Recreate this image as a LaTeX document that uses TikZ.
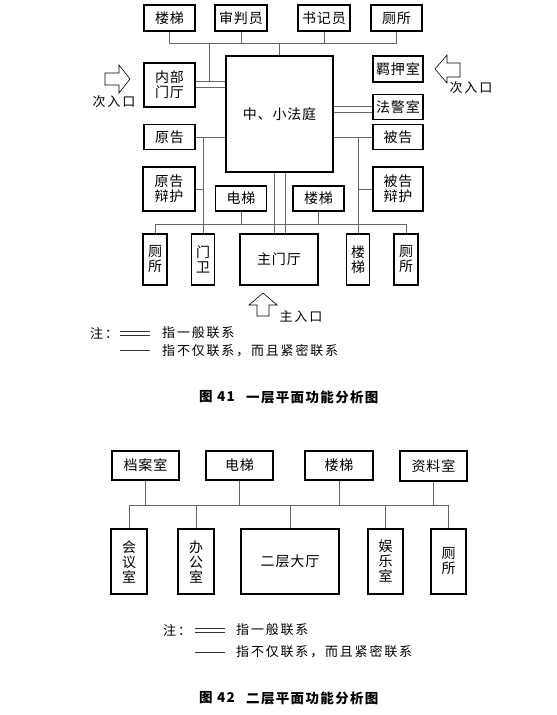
\documentclass[tikz,border=0pt]{standalone}
\usepackage{fontspec}
\setmainfont{Noto Sans CJK SC}[LetterSpace=6]
\newfontfamily\cjk{Noto Sans CJK SC}[LetterSpace=6]
\newfontfamily\cjkw{Noto Sans CJK SC}[LetterSpace=14]
\newfontfamily\cjkc{Noto Sans CJK SC}[LetterSpace=10]
\begin{document}
\begin{tikzpicture}[x=1pt,y=-1pt,
  box/.style={draw, line width=1.1pt, inner sep=0pt, align=center,
    font=\cjk\fontsize{14}{15}\selectfont},
  conn/.style={draw=black!60, line width=0.6pt},
  legline/.style={draw=black!80, line width=0.6pt},
  arrowshape/.style={draw=black, line width=0.6pt, line join=miter},
  lbl/.style={inner sep=0pt, font=\cjkw\fontsize{13}{14}\selectfont},
  captxt/.style={inner sep=0pt, anchor=west, font=\cjkc\bfseries\fontsize{13.5}{14}\selectfont}]
\useasboundingbox[fill=white] (0,0) rectangle (557,715);

% ===== Figure 41 =====
\node[box, minimum width=51pt, minimum height=26pt] (t1) at (169.5,18) {楼梯};
\node[box, minimum width=52pt, minimum height=26pt] (t2) at (241,18) {审判员};
\node[box, minimum width=52pt, minimum height=26pt] (t3) at (324,18) {书记员};
\node[box, minimum width=51pt, minimum height=26pt] (t4) at (396.5,18) {厕所};

\node[box, minimum width=107pt, minimum height=116pt] (hall) at (279.5,114) {中、小法庭};
\node[box, minimum width=51pt, minimum height=44pt] (nb) at (169.5,85) {内部\\门厅};
\node[box, minimum width=50pt, minimum height=26pt] (jy) at (398,69) {羁押室};
\node[box, minimum width=50pt, minimum height=25pt] (fj) at (398,107) {法警室};
\node[box, minimum width=50pt, minimum height=25pt] (bg) at (398,137) {被告};
\node[box, minimum width=51pt, minimum height=25pt] (yg) at (169.5,137) {原告};
\node[box, minimum width=52pt, minimum height=44pt] (ygbh) at (169,189) {原告\\辩护};
\node[box, minimum width=50pt, minimum height=44pt] (bgbh) at (398,189) {被告\\辩护};
\node[box, minimum width=51pt, minimum height=25pt] (dt) at (241,198.5) {电梯};
\node[box, minimum width=51pt, minimum height=25pt] (lt2) at (318.5,198.5) {楼梯};
\node[box, minimum width=24pt, minimum height=51pt] (cs1) at (155,259.5) {厕\\所};
\node[box, minimum width=23pt, minimum height=51pt] (mw) at (203,259.5) {门\\卫};
\node[box, minimum width=78pt, minimum height=51pt] (mmt) at (279,259.5) {主门厅};
\node[box, minimum width=23pt, minimum height=51pt] (lt3) at (358,259.5) {楼\\梯};
\node[box, minimum width=24pt, minimum height=51pt] (cs2) at (406,259.5) {厕\\所};

% connectors
\coordinate (tb) at (0,43);
\draw[conn] (t1.south) -- (t1.south |- tb) -- (t4.south |- tb) -- (t4.south);
\draw[conn] (t2.south) -- (t2.south |- tb);
\draw[conn] (t3.south) -- (t3.south |- tb);
\draw[conn] (hall.north) -- (hall.north |- tb);
\coordinate (j1) at (209,43);
\coordinate (yA) at (0,81);
\coordinate (yB) at (0,87);
\draw[conn] (j1) -- (j1 |- yA);
\draw[conn] (nb.east |- yA) -- (hall.west |- yA);
\draw[conn] (nb.east |- yB) -- (hall.west |- yB);
\coordinate (fA) at (0,106);
\coordinate (fB) at (0,112);
\draw[conn] (hall.east |- fA) -- (fj.west |- fA);
\draw[conn] (hall.east |- fB) -- (fj.west |- fB);
\draw[conn] (yg.east) -- (hall.west |- yg.east);
\draw[conn] (mw.north |- yg.east) -- (mw.north);
\draw[conn] (ygbh.east) -- (mw.north |- ygbh.east);
\draw[conn] (bg.west) -- (hall.east |- bg.west);
\draw[conn] (lt3.north |- bg.west) -- (lt3.north);
\draw[conn] (bgbh.west) -- (lt3.north |- bgbh.west);
\coordinate (bb) at (0,224);
\draw[conn] (cs1.north) -- (cs1.north |- bb) -- (cs2.north |- bb) -- (cs2.north);
\draw[conn] (dt.south) -- (dt.south |- bb);
\draw[conn] (lt2.south) -- (lt2.south |- bb);
\coordinate (dx1) at (274,0);
\coordinate (dx2) at (285,0);
\draw[conn] (dx1 |- hall.south) -- (dx1 |- mmt.north);
\draw[conn] (dx2 |- hall.south) -- (dx2 |- mmt.north);

% entrance arrows
\draw[arrowshape] (105,73) -- (119,73) -- (119,65) -- (130,79) -- (119,93) -- (119,85) -- (105,85) -- cycle;
\draw[arrowshape] (460,63) -- (447,63) -- (447,55) -- (435,69) -- (447,83) -- (447,77) -- (460,77) -- cycle;
\draw[arrowshape] (257,316) -- (257,305) -- (249,305) -- (263,293) -- (277,305) -- (269,305) -- (269,316) -- cycle;
\node[lbl] (e1) at (114,102) {次入口};
\node[lbl] (e2) at (471,88) {次入口};
\node[lbl] (e3) at (301,317) {主入口};

% legend 1
\node[lbl, anchor=west] (n1) at (90,333) {注：};
\draw[legline] (120,331) -- (150,331);
\draw[legline] (120,335) -- (150,335);
\draw[legline] (120,350.5) -- (150,350.5);
\node[lbl, anchor=west] (l1) at (162,333) {指一般联系};
\node[lbl, anchor=west] (l2) at (162,350.5) {指不仅联系，而且紧密联系};
\node[captxt] (c1a) at (199,397) {图 41};
\node[captxt] (c1b) at (246,397) {一层平面功能分析图};

% ===== Figure 42 =====
\node[box, minimum width=67pt, minimum height=29pt] (da) at (145.5,465.5) {档案室};
\node[box, minimum width=67pt, minimum height=29pt] (dt2) at (239.5,465.5) {电梯};
\node[box, minimum width=68pt, minimum height=29pt] (lt4) at (339,465.5) {楼梯};
\node[box, minimum width=67pt, minimum height=30pt] (zl) at (433.5,466) {资料室};
\node[box, minimum width=36pt, minimum height=65pt] (hy) at (129,561.5) {会\\议\\室};
\node[box, minimum width=36pt, minimum height=65pt] (bgs) at (196,561.5) {办\\公\\室};
\node[box, minimum width=98pt, minimum height=65pt] (dating) at (290,561.5) {二层大厅};
\node[box, minimum width=35pt, minimum height=65pt] (yls) at (385.5,561.5) {娱\\乐\\室};
\node[box, minimum width=35pt, minimum height=65pt] (cs3) at (448.5,561.5) {厕\\所};

\coordinate (b2) at (0,505);
\draw[conn] (hy.north) -- (hy.north |- b2) -- (cs3.north |- b2) -- (cs3.north);
\draw[conn] (bgs.north) -- (bgs.north |- b2);
\draw[conn] (dating.north) -- (dating.north |- b2);
\draw[conn] (yls.north) -- (yls.north |- b2);
\draw[conn] (da.south) -- (da.south |- b2);
\draw[conn] (dt2.south) -- (dt2.south |- b2);
\draw[conn] (lt4.south) -- (lt4.south |- b2);
\draw[conn] (zl.south) -- (zl.south |- b2);

% legend 2
\node[lbl, anchor=west] (n2) at (163,630) {注：};
\draw[legline] (195,628) -- (225,628);
\draw[legline] (195,632) -- (225,632);
\draw[legline] (195,652) -- (225,652);
\node[lbl, anchor=west] (l3) at (236,630) {指一般联系};
\node[lbl, anchor=west] (l4) at (236,652) {指不仅联系，而且紧密联系};
\node[captxt] (c2a) at (199,698) {图 42};
\node[captxt] (c2b) at (246,698) {二层平面功能分析图};
\end{tikzpicture}
\end{document}
